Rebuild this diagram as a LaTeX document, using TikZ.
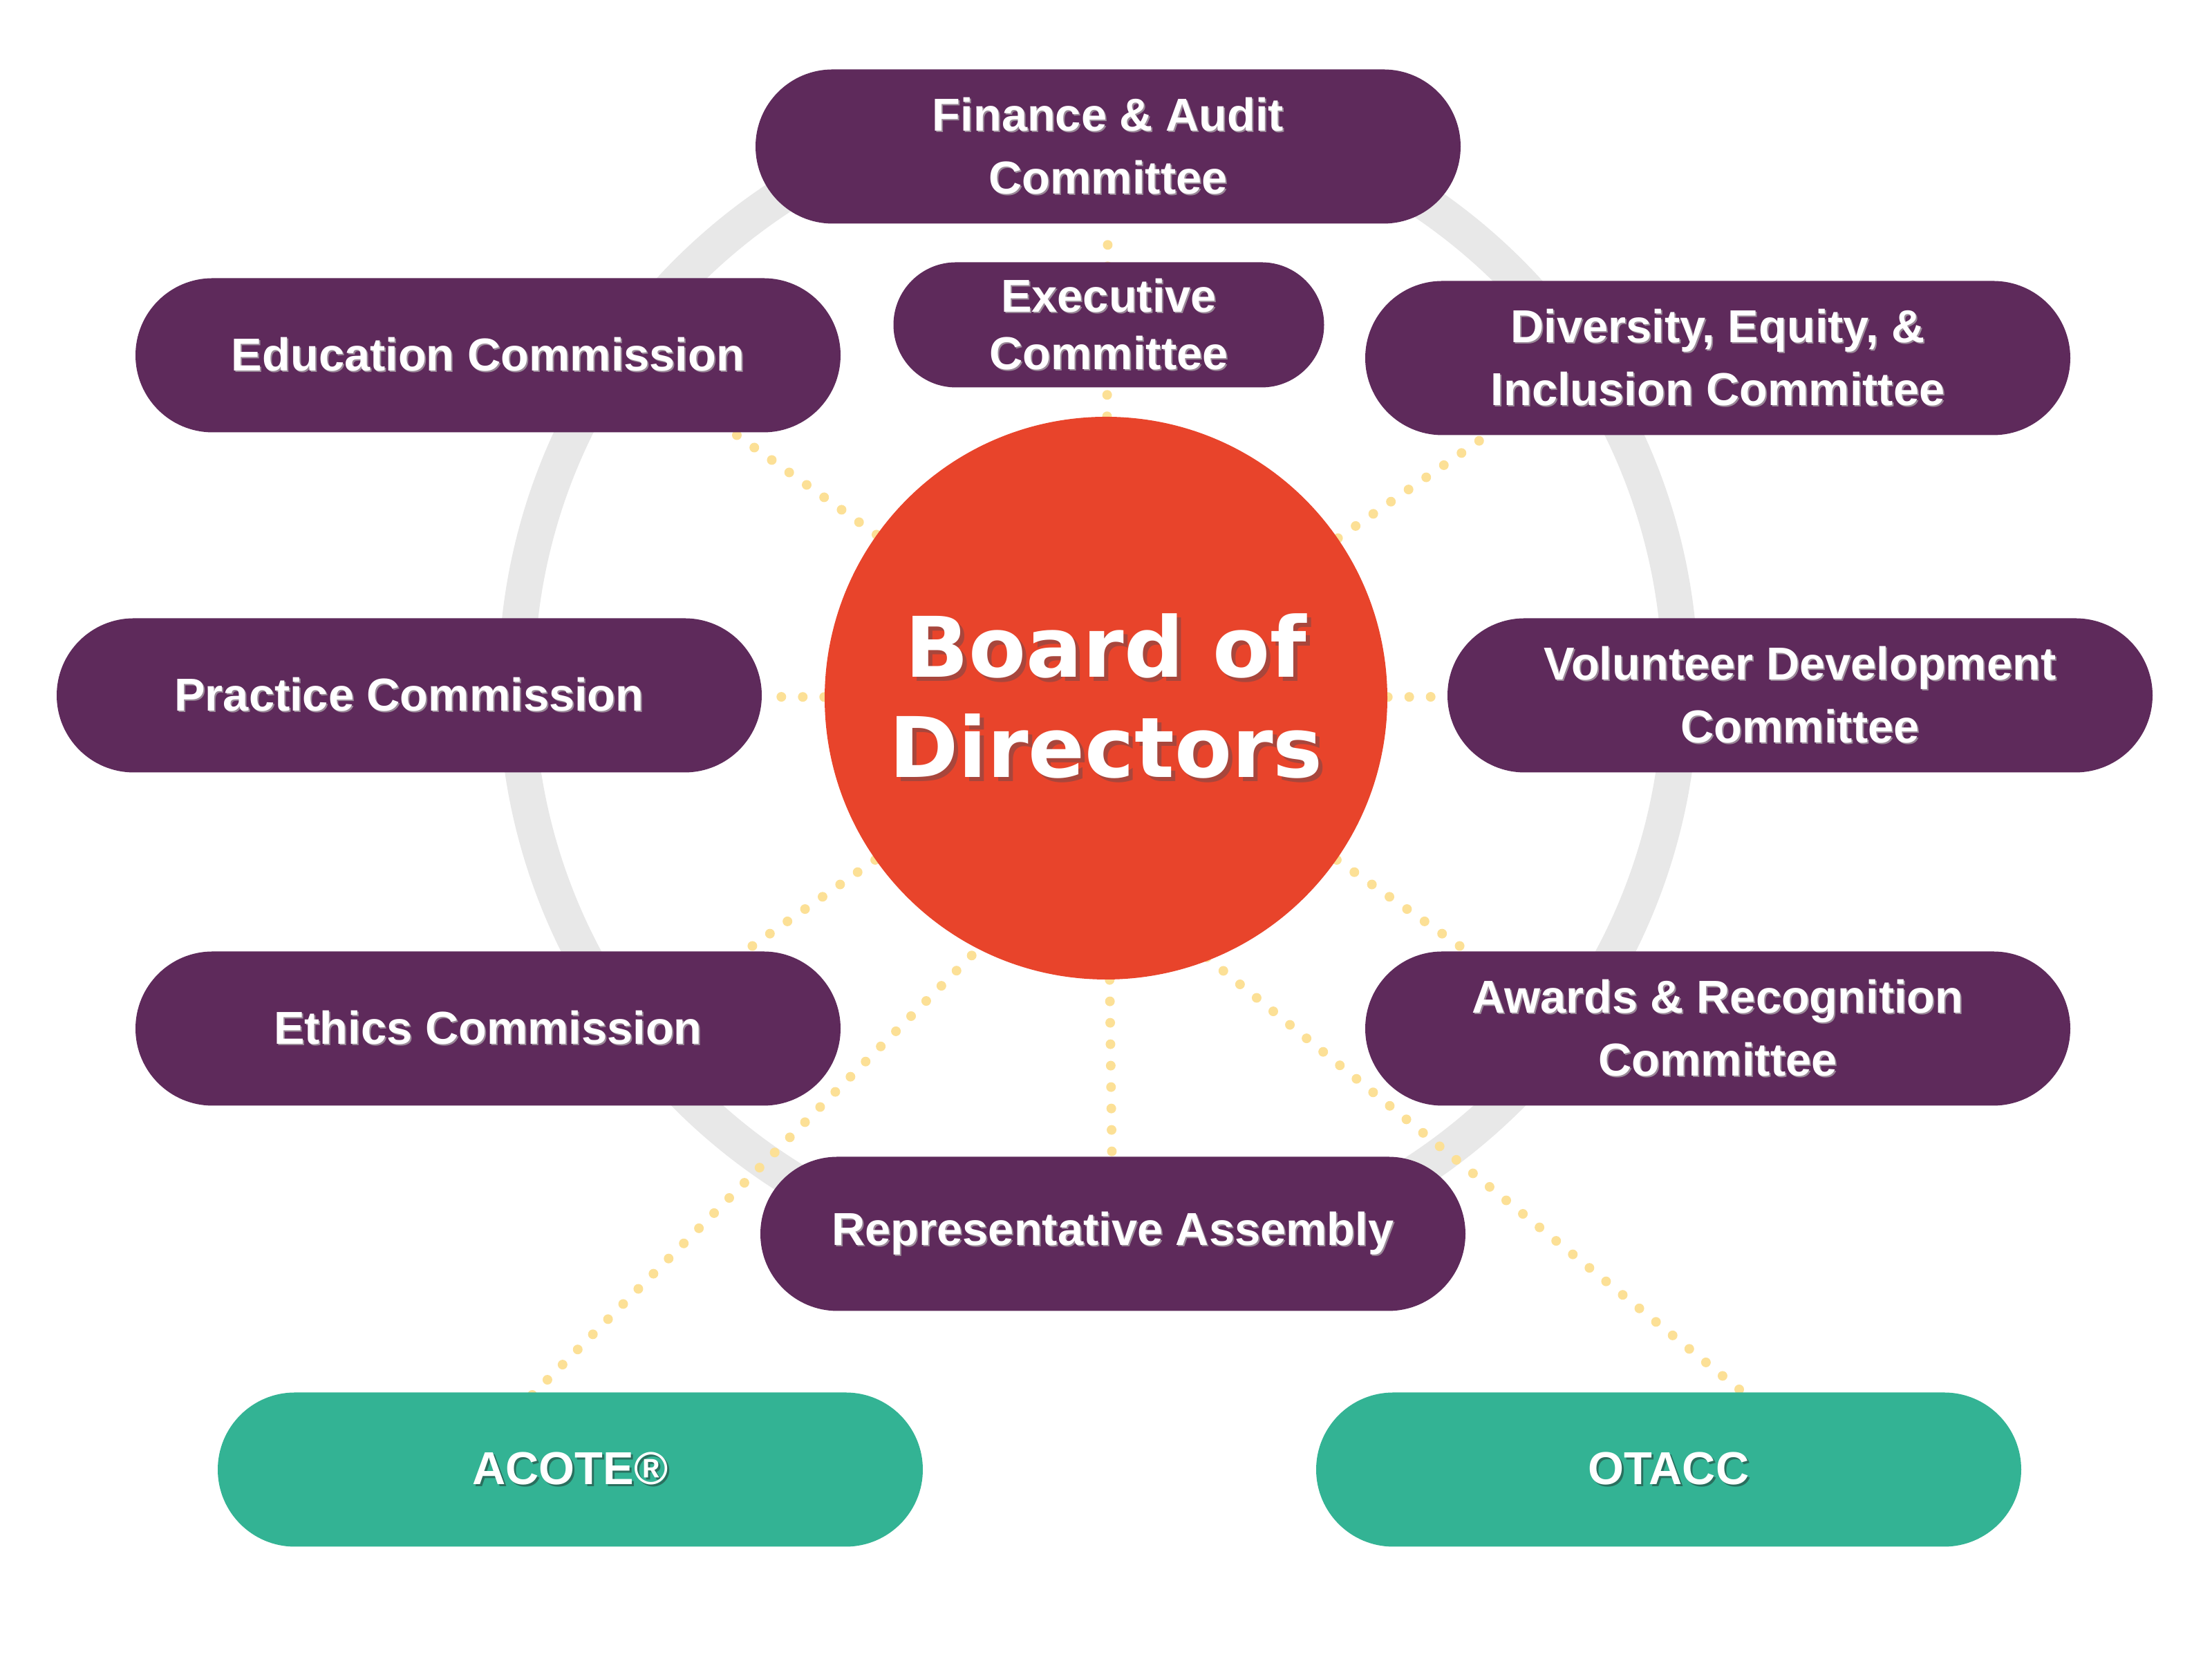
\documentclass[tikz,border=0pt]{standalone}
\usepackage{fontspec}
\setmainfont{Liberation Sans}
\newfontfamily\heavyfont{DejaVu Sans}
\usetikzlibrary{backgrounds}
\definecolor{plum}{HTML}{5E2A5B}
\definecolor{tomato}{HTML}{E8442B}
\definecolor{jade}{HTML}{33B394}
\definecolor{sand}{RGB}{252,224,150}
\definecolor{mist}{HTML}{E8E8E8}
\definecolor{plumshade}{HTML}{9A8A98}
\definecolor{jadeshade}{HTML}{2A6F5E}
\definecolor{tomatoshade}{HTML}{A8463C}
\newcommand{\shtext}[3]{\leavevmode\rlap{\kern#1\raisebox{-#1}{\textcolor{#2}{#3}}}#3}
\newcommand{\pl}[1]{\shtext{0.02cm}{plumshade}{#1}}
\newcommand{\jd}[1]{\shtext{0.03cm}{jadeshade}{#1}}
\newcommand{\tm}[1]{\shtext{0.06cm}{tomatoshade}{#1}}
\begin{document}
\begin{tikzpicture}[font=\bfseries\fontsize{19}{26}\selectfont,
	unit/.style={rectangle,rounded corners=1.115cm,fill=plum,text=white,align=center,minimum width=10.2cm,minimum height=2.23cm,inner sep=0pt},
	agency/.style={unit,fill=jade},
	disc/.style={circle,fill=tomato,text=white,align=center,minimum size=8.14cm,inner sep=0pt,font=\heavyfont\bfseries\fontsize{34.4}{41.5}\selectfont},
	link/.style={draw=sand,line width=0.14cm,line cap=round,dash pattern=on 0pt off 0.31cm},
	ring/.style={draw=mist,line width=0.52cm}]
	
	\useasboundingbox (0,0) rectangle (32,24);
	\node[disc] (board) at (16,13.9) {\tm{Board of}\\\tm{Directors}};
	\node[unit] (finance) at (16.03,21.88) {\pl{Finance \& Audit}\\\pl{Committee}};
	\node[unit,minimum width=6.23cm,minimum height=1.81cm,rounded corners=0.905cm,font=\bfseries\fontsize{19}{23.6}\selectfont] (executive) at (16.04,19.3) {\pl{Executive}\\\pl{Committee}};
	\node[unit] (education) at (7.06,18.86) {\pl{Education Commission}};
	\node[unit] (diversity) at (24.85,18.82) {\pl{Diversity, Equity, \&}\\\pl{Inclusion Committee}};
	\node[unit] (practice) at (5.92,13.94) {\pl{Practice Commission}};
	\node[unit] (volunteer) at (26.04,13.94) {\pl{Volunteer Development}\\\pl{Committee}};
	\node[unit] (ethics) at (7.06,9.12) {\pl{Ethics Commission}};
	\node[unit] (awards) at (24.85,9.12) {\pl{Awards \& Recognition}\\\pl{Committee}};
	\node[unit] (representative) at (16.1,6.15) {\pl{Representative Assembly}};
	\node[agency] (acote) at (8.25,2.74) {\jd{ACOTE®}};
	\node[agency] (otacc) at (24.14,2.74) {\jd{OTACC}};
	
	\coordinate (ring-c) at (15.89,14.1);
	\coordinate (e-edu) at (9.81,18.31);
	\coordinate (e-div) at (22.25,18.21);
	\coordinate (e-eth) at (9.75,9.52);
	\coordinate (e-awa) at (22.25,9.52);
	\coordinate (a-low) at (7.7,3.82);
	\coordinate (a-high) at (14.8,10.92);
	\coordinate (o-low) at (25.16,3.9);
	\coordinate (o-high) at (17.1,10.44);
	
	\begin{scope}[on background layer]
		\draw[ring] (ring-c) circle (8.42);
		\foreach \t in {finance,practice,volunteer,representative,e-edu,e-div,e-eth,e-awa}
		{
			\draw[link] (board) -- (\t);
		}
		\draw[link] (a-low) -- (a-high);
		\draw[link] (o-low) -- (o-high);
	\end{scope}
\end{tikzpicture}
\end{document}
